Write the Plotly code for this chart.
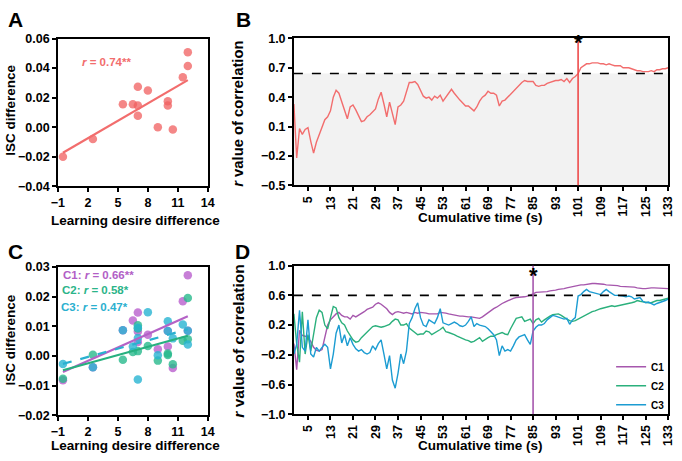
import numpy as np
import plotly.graph_objects as go

# ---------------- data ----------------
# Panel A
desire_diff = [-0.5, 2.5, 5.5, 6.5, 7, 7, 7, 8, 9, 10, 10, 10.5, 11.5, 12, 12]
isc_diff = [-0.020, -0.008, 0.0155, 0.0155, 0.0274, 0.0147, 0.0077, 0.0248,
            0.0, 0.0175, 0.0147, -0.0015, 0.0338, 0.0414, 0.0507]
r_label_a = "<i>r</i> = 0.74**"

# Panel C
isc_c1 = [-0.0082, -0.0038, 0.0086, 0.0119, 0.0146, 0.0082, 0.0047, 0.0071,
          0.0022, 0.0084, 0.0032, -0.0041, 0.0184, 0.0272, 0.0085]
isc_c2 = [-0.0077, 0.0004, -0.0013, 0.0013, 0.0103, 0.0016, 0.0092, 0.0033,
          -0.0016, 0.0008, 0.0003, -0.0028, 0.0051, 0.0195, 0.0056]
isc_c3 = [-0.0027, -0.0038, 0.0086, 0.0032, 0.0095, 0.0060, -0.0080, 0.0147,
          0.0002, 0.0117, 0.0084, 0.0059, 0.0106, 0.0085, 0.0038]
c_labels = ["C1: <i>r</i> = 0.66**", "C2: <i>r</i> = 0.58*", "C3: <i>r</i> = 0.47*"]

# Panel B (cumulative time, s)
time_s = list(range(0, 134))
r_b = [0.33, -0.22, 0.08, 0.02, 0.07, 0.09, -0.05, -0.17, -0.06, 0.02,
       0.11, 0.17, 0.20, 0.26, 0.40, 0.47, 0.44, 0.36, 0.28, 0.18,
       0.30, 0.32, 0.27, 0.21, 0.15, 0.16, 0.20, 0.22, 0.25, 0.28,
       0.38, 0.45, 0.33, 0.20, 0.35, 0.22, 0.12, 0.30, 0.32, 0.36,
       0.45, 0.55, 0.55, 0.56, 0.53, 0.47, 0.41, 0.39, 0.40, 0.37,
       0.41, 0.39, 0.42, 0.36, 0.40, 0.44, 0.48, 0.44, 0.40, 0.37,
       0.34, 0.31, 0.31, 0.28, 0.26, 0.30, 0.36, 0.40, 0.42, 0.46,
       0.44, 0.44, 0.42, 0.31, 0.36, 0.37, 0.40, 0.43, 0.47, 0.49,
       0.52, 0.55, 0.57, 0.56, 0.56, 0.56, 0.52, 0.51, 0.52, 0.52,
       0.54, 0.55, 0.56, 0.57, 0.57, 0.58, 0.56, 0.59, 0.55, 0.59,
       0.61, 0.64, 0.70, 0.72, 0.74, 0.74, 0.75, 0.75, 0.75, 0.74,
       0.74, 0.73, 0.74, 0.73, 0.72, 0.72, 0.72, 0.70, 0.70, 0.70,
       0.69, 0.68, 0.67, 0.67, 0.66, 0.66, 0.66, 0.67, 0.66, 0.68,
       0.68, 0.69, 0.69, 0.70]
threshold_b = 0.641
onset_b = 101

# Panel D
r_d1 = [-0.05, -0.40, 0.13, 0.06, 0.05, 0.03, -0.02, -0.10, -0.14, -0.15,
        -0.13, 0.02, 0.20, 0.27, 0.31, 0.35, 0.37, 0.33, 0.31, 0.31,
        0.28, 0.33, 0.31, 0.33, 0.35, 0.38, 0.41, 0.42, 0.44, 0.48,
        0.50, 0.48, 0.45, 0.42, 0.37, 0.34, 0.37, 0.38, 0.37, 0.36,
        0.37, 0.36, 0.35, 0.37, 0.36, 0.37, 0.37, 0.36, 0.35, 0.35,
        0.36, 0.35, 0.37, 0.37, 0.36, 0.35, 0.34, 0.34, 0.33, 0.32,
        0.32, 0.31, 0.31, 0.31, 0.30, 0.29, 0.29, 0.31, 0.34, 0.37,
        0.40, 0.42, 0.44, 0.47, 0.49, 0.51, 0.53, 0.54, 0.56, 0.57,
        0.57, 0.58, 0.58, 0.59, 0.60, 0.62, 0.64, 0.64, 0.64, 0.65,
        0.65, 0.66, 0.66, 0.67, 0.68, 0.68, 0.69, 0.70, 0.71, 0.72,
        0.72, 0.73, 0.74, 0.74, 0.75, 0.75, 0.76, 0.76, 0.76, 0.76,
        0.75, 0.74, 0.74, 0.73, 0.73, 0.73, 0.72, 0.72, 0.72, 0.71,
        0.71, 0.71, 0.70, 0.69, 0.69, 0.69, 0.70, 0.70, 0.70, 0.70,
        0.70, 0.70, 0.70, 0.69]
r_d2 = [0.35, -0.05, -0.30, 0.38, -0.19, 0.07, -0.15, 0.10, 0.30, 0.40,
        0.37, 0.20, 0.15, 0.30, 0.45, 0.43, 0.30, 0.23, 0.20, 0.12,
        0.06, 0.00, -0.03, -0.02, 0.03, 0.07, 0.10, 0.15, 0.18, 0.19,
        0.18, 0.17, 0.18, 0.19, 0.21, 0.25, 0.28, 0.27, 0.20, 0.20,
        0.22, 0.16, 0.13, 0.09, 0.07, 0.08, 0.08, 0.12, 0.11, 0.07,
        0.09, 0.11, 0.14, 0.17, 0.11, 0.10, 0.09, 0.07, 0.05, 0.03,
        0.02, 0.00, -0.01, -0.03, -0.02, 0.00, 0.03, -0.02, 0.01, 0.03,
        0.05, 0.05, 0.07, 0.08, 0.10, 0.08, 0.07, 0.15, 0.22, 0.29,
        0.30, 0.31, 0.25, 0.27, 0.28, 0.22, 0.27, 0.29, 0.24, 0.27,
        0.30, 0.32, 0.34, 0.34, 0.35, 0.33, 0.30, 0.28, 0.26, 0.25,
        0.26, 0.28, 0.30, 0.33, 0.35, 0.36, 0.38, 0.39, 0.41, 0.42,
        0.43, 0.44, 0.45, 0.46, 0.45, 0.46, 0.47, 0.47, 0.48, 0.49,
        0.50, 0.51, 0.53, 0.52, 0.51, 0.51, 0.50, 0.50, 0.52, 0.53,
        0.53, 0.54, 0.55, 0.56]
r_d3 = [-0.19, -0.06, 0.40, -0.10, -0.15, 0.27, -0.19, -0.23, -0.10, -0.15,
        -0.10, -0.06, -0.10, -0.39, -0.19, 0.09, 0.20, -0.04, 0.07, -0.08,
        0.03, -0.06, -0.12, -0.15, -0.13, -0.17, -0.19, -0.17, -0.08, -0.13,
        -0.05, 0.00, -0.19, -0.39, -0.21, -0.54, -0.65, -0.45, -0.19, -0.32,
        -0.15, 0.22, 0.30, 0.42, 0.50, 0.30, 0.20, 0.18, 0.27, 0.24,
        0.22, 0.30, 0.42, 0.23, 0.21, 0.20, 0.22, 0.24, 0.22, 0.19,
        0.18, 0.20, 0.25, 0.31, 0.18, 0.22, 0.20, 0.19, 0.18, 0.15,
        0.11, 0.07, 0.00, -0.21, -0.08, -0.15, -0.13, -0.15, -0.08, 0.00,
        0.04, 0.06, 0.07, 0.00, -0.06, 0.12, 0.17, 0.20, 0.20, 0.22,
        0.27, 0.30, 0.33, 0.32, 0.31, 0.29, 0.28, 0.29, 0.21, 0.27,
        0.30, 0.59, 0.61, 0.65, 0.68, 0.65, 0.64, 0.63, 0.62, 0.61,
        0.65, 0.68, 0.65, 0.63, 0.60, 0.60, 0.60, 0.59, 0.58, 0.59,
        0.58, 0.55, 0.56, 0.57, 0.52, 0.50, 0.51, 0.49, 0.47, 0.49,
        0.50, 0.52, 0.53, 0.55]
threshold_d = 0.6
onset_d = 85

component_names = ["C1", "C2", "C3"]
time_ticks = list(range(5, 134, 8))

# ---------------- styling ----------------
W, H = 682, 461
FONT = "Liberation Sans, Arial, sans-serif"
RED = "#f26d6d"
RED_LINE = "#ee4a4a"
PT_COL = ["rgba(185,95,205,0.8)", "rgba(40,185,140,0.8)", "rgba(40,180,210,0.8)"]
TXT_COL = ["#b25ec6", "#2bb489", "#2bb0cf"]
LINE_C = ["#b462c6", "#27b07f", "#2ab0d0"]
LINE_D = ["#a657ad", "#2bb07c", "#1c9cd2"]


def px_x(p):
    return p / W


def px_y(p):
    return 1 - p / H


fig = go.Figure()

# Panel A
fig.add_trace(go.Scatter(x=desire_diff, y=isc_diff, mode="markers",
                         marker=dict(size=8.5, color="rgba(240,95,95,0.75)"),
                         xaxis="x", yaxis="y", showlegend=False))
sa, ia = np.polyfit(desire_diff, isc_diff, 1)
xa = [min(desire_diff), max(desire_diff)]
fig.add_trace(go.Scatter(x=xa, y=[sa * v + ia for v in xa], mode="lines",
                         line=dict(color=RED, width=2.2),
                         xaxis="x", yaxis="y", showlegend=False))

# Panel C
for k, ys in enumerate([isc_c1, isc_c2, isc_c3]):
    fig.add_trace(go.Scatter(x=desire_diff, y=ys, mode="markers",
                             marker=dict(size=8.5, color=PT_COL[k]),
                             xaxis="x3", yaxis="y3", showlegend=False))
for k, ys in enumerate([isc_c1, isc_c2, isc_c3]):
    s, i = np.polyfit(desire_diff, ys, 1)
    fig.add_trace(go.Scatter(x=xa, y=[s * v + i for v in xa], mode="lines",
                             line=dict(color=LINE_C[k], width=2.2,
                                       dash="dash" if k == 2 else "solid"),
                             xaxis="x3", yaxis="y3", showlegend=False))

# Panel B
fig.add_trace(go.Scatter(x=time_s, y=r_b, mode="lines",
                         line=dict(color=RED, width=1.4),
                         xaxis="x2", yaxis="y2", showlegend=False))

# Panel D
for k, ys in enumerate([r_d1, r_d2, r_d3]):
    fig.add_trace(go.Scatter(x=time_s, y=ys, mode="lines", name=component_names[k],
                             line=dict(color=LINE_D[k], width=1.4),
                             xaxis="x4", yaxis="y4", showlegend=True))

# ---------------- axes ----------------
tickfont = dict(family=FONT, size=12.5, color="black", weight="bold")
common = dict(showline=True, linecolor="black", linewidth=1.6, mirror=True,
              ticks="outside", ticklen=4, tickwidth=1.5, tickcolor="black",
              showgrid=False, zeroline=False, tickfont=tickfont)

dom_left = [px_x(52), px_x(205)]
dom_right = [px_x(292.9), px_x(675)]
dom_top = [px_y(185), px_y(32.5)]
dom_top_b = [px_y(184), px_y(32.3)]
dom_bot_c = [px_y(421), px_y(268)]
dom_bot_d = [px_y(420), px_y(266.7)]

fig.update_layout(
    xaxis=dict(domain=dom_left, range=[-1, 14], tickvals=[-1, 2, 5, 8, 11, 14],
               anchor="y", **common),
    yaxis=dict(domain=dom_top, range=[-0.04, 0.06],
               tickvals=[-0.04, -0.02, 0, 0.02, 0.04, 0.06], tickformat=".2f",
               anchor="x", **common),
    xaxis2=dict(domain=dom_right, range=[0, 133], tickvals=time_ticks,
                tickangle=-90, anchor="y2", **common),
    yaxis2=dict(domain=dom_top_b, range=[-0.5, 1.0],
                tickvals=[-0.5, -0.2, 0.1, 0.4, 0.7, 1.0], tickformat=".1f",
                anchor="x2", **common),
    xaxis3=dict(domain=dom_left, range=[-1, 14], tickvals=[-1, 2, 5, 8, 11, 14],
                anchor="y3", **common),
    yaxis3=dict(domain=dom_bot_c, range=[-0.02, 0.03],
                tickvals=[-0.02, -0.01, 0, 0.01, 0.02, 0.03], tickformat=".2f",
                anchor="x3", **common),
    xaxis4=dict(domain=dom_right, range=[0, 133], tickvals=time_ticks,
                tickangle=-90, anchor="y4", **common),
    yaxis4=dict(domain=dom_bot_d, range=[-1.0, 1.0],
                tickvals=[-1.0, -0.6, -0.2, 0.2, 0.6, 1.0], tickformat=".1f",
                anchor="x4", **common),
)

# ---------------- shapes ----------------
shapes = [
    dict(type="rect", xref="x2 domain", x0=0, x1=1, yref="y2", y0=-0.5, y1=threshold_b,
         fillcolor="#f2f2f2", line=dict(width=0), layer="below"),
    dict(type="line", xref="x2 domain", x0=0, x1=1, yref="y2", y0=threshold_b, y1=threshold_b,
         line=dict(color="black", width=1.6, dash="dash")),
    dict(type="line", xref="x2", x0=onset_b, x1=onset_b, yref="y2", y0=-0.5, y1=1.0,
         line=dict(color=RED_LINE, width=1.6)),
    dict(type="line", xref="x4 domain", x0=0, x1=1, yref="y4", y0=threshold_d, y1=threshold_d,
         line=dict(color="black", width=1.6, dash="dash")),
    dict(type="line", xref="x4", x0=onset_d, x1=onset_d, yref="y4", y0=-1.0, y1=1.0,
         line=dict(color=LINE_D[0], width=1.6)),
]
fig.update_layout(shapes=shapes)

# ---------------- annotations ----------------
ann = []


def text(x, y, s, size, color="black", angle=0, xanchor="center", yanchor="middle",
         xref="paper", yref="paper"):
    ann.append(dict(x=x, y=y, xref=xref, yref=yref, text=s, showarrow=False,
                    textangle=angle, xanchor=xanchor, yanchor=yanchor,
                    font=dict(family=FONT, size=size, color=color, weight="bold")))


# panel letters
text(px_x(9), px_y(13), "A", 21)
text(px_x(241), px_y(13), "B", 21)
text(px_x(9), px_y(252), "C", 21)
text(px_x(240), px_y(252), "D", 21)

# axis titles
text(px_x(4), px_y(106), "ISC difference", 13.5, angle=-90)
text(px_x(131), px_y(220), "Learning desire difference", 13.5)
text(px_x(4), px_y(343), "ISC difference", 13.5, angle=-90)
text(px_x(131), px_y(452), "Learning desire difference", 13.5)
text(px_x(236), px_y(110), "<i>r</i> value of correlation", 14.8, angle=-90)
text(px_x(483), px_y(217), "Cumulative time (s)", 13.5)
text(px_x(236), px_y(345), "<i>r</i> value of correlation", 15.5, angle=-90)
text(px_x(483), px_y(452), "Cumulative time (s)", 13.5)

# correlation labels
text(px_x(102), px_y(57), r_label_a, 11.5, color=RED)
for k, lab in enumerate(c_labels):
    text(px_x([93.5, 90, 89][k]), px_y([276, 292, 309][k]), lab, 11.5, color=TXT_COL[k])

# stars
text(onset_b, px_y(37), "*", 22, xref="x2")
text(onset_d, px_y(277), "*", 22, xref="x4")

fig.update_layout(
    annotations=ann,
    width=W, height=H, margin=dict(l=0, r=0, t=0, b=0),
    paper_bgcolor="white", plot_bgcolor="white",
    font=dict(family=FONT, color="black"),
    legend=dict(x=px_x(677), xanchor="right", y=px_y(356), yanchor="top",
                font=dict(family=FONT, size=10, color="black", weight="bold"),
                bgcolor="rgba(0,0,0,0)", tracegroupgap=0, itemwidth=30),
)

fig.write_html("out.html", config={"displayModeBar": False},
               post_script="document.body.style.margin='0';document.body.style.overflow='hidden';")
